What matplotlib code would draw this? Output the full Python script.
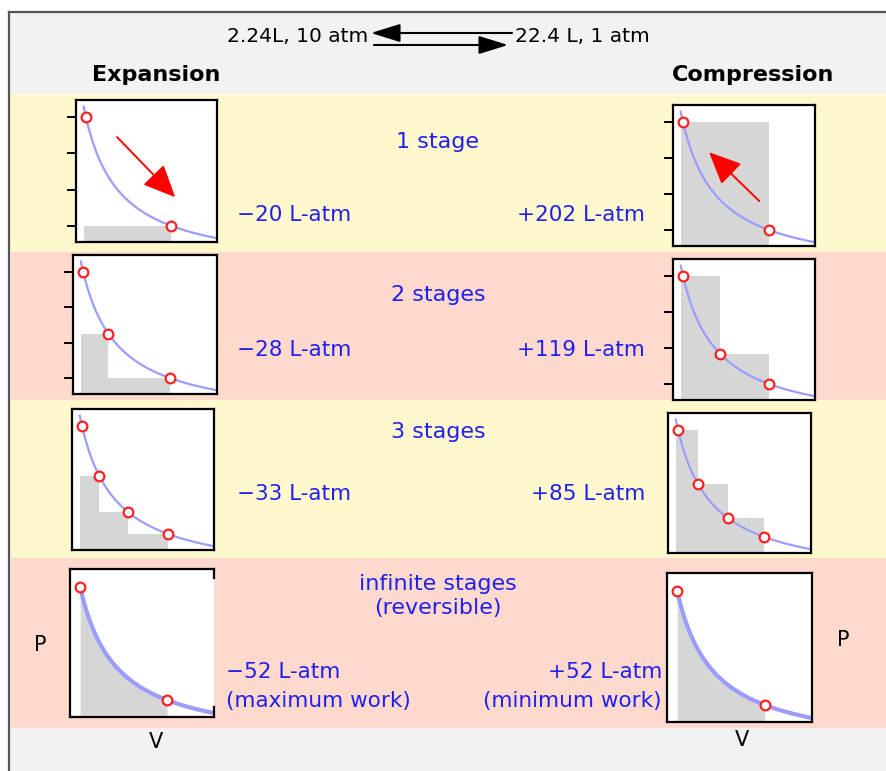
"""Work done in multi-stage isothermal expansion / compression of an ideal gas."""

import matplotlib

matplotlib.use('Agg')
import matplotlib.pyplot as plt
import numpy as np
from matplotlib.patches import Rectangle

# ---- data -------------------------------------------------------------
stage_labels = ['1 stage', '2 stages', '3 stages', 'infinite stages\n(reversible)']
expansion_work = [-20, -28, -33, -52]      # L-atm
compression_work = [202, 119, 85, 52]      # L-atm
expansion_notes = ['', '', '', '(maximum work)']
compression_notes = ['', '', '', '(minimum work)']

# schematic states on the isotherm (arbitrary V units, P = K / V)
K = 3.4
expansion_volumes = [[1.0, 3.4], [1.0, 1.7, 3.4], [1.0, 1.48, 2.28, 3.4], [1.0, 3.4]]
compression_volumes = [[1.0, 3.4], [1.0, 2.05, 3.4], [1.0, 1.56, 2.39, 3.4], [1.0, 3.4]]
is_reversible = [False, False, False, True]
has_ticks = [True, True, False, False]
p_ticks = [1.0, 1.8, 2.6, 3.4]

# direction arrows in the 1-stage panels (V, P)
exp_arrow = [(1.88, 2.96), (3.52, 1.63)]
cmp_arrow = [(3.14, 1.64), (1.73, 2.73)]

# ---- layout (pixels) --------------------------------------------------
W, H = 887, 771
exp_boxes = [(76, 100, 217, 242), (73, 255, 217, 394), (72, 409, 214, 550), (70, 569, 214, 717)]
cmp_boxes = [(673, 105, 815, 246), (673, 259, 815, 400), (668, 413, 811, 553), (667, 573, 812, 722)]
bands = [(94, 252, '#fff8cc'), (252, 400, '#ffd9cc'), (400, 558, '#fff8cc'), (558, 728, '#ffd9cc')]
label_y = [(142, 215), (295, 350), (432, 494), (596, 672)]

XLIM = (0.72, 4.7)
YLIM = (0.64, 3.78)
BLUE = '#2020ee'
GRAY = '#d6d6d6'
CURVE = '#9c9cff'

fig = plt.figure(figsize=(W / 100, H / 100), dpi=100)
bg = fig.add_axes([0, 0, 1, 1])
bg.set_xlim(0, W)
bg.set_ylim(H, 0)
bg.axis('off')

# frame and colour bands
bg.add_patch(Rectangle((9, 12), W - 9, H - 12, facecolor='#f2f2f2', edgecolor='none'))
bg.plot([9, W], [12, 12], color='#555555', lw=1.6)
bg.plot([9.5, 9.5], [12, H], color='#555555', lw=1.6)
for top, bottom, col in bands:
    bg.add_patch(Rectangle((11, top), W - 11, bottom - top, facecolor=col, edgecolor='none'))

# header
bg.text(368, 36, '2.24L, 10 atm', ha='right', va='center', fontsize=14.5)
bg.text(515, 37, '22.4 L, 1 atm', ha='left', va='center', fontsize=14.5)
bg.annotate('', xy=(371, 33), xytext=(512, 33),
            arrowprops=dict(arrowstyle='-|>,head_length=0.9,head_width=0.28',
                            color='black', lw=1.5, mutation_scale=20, shrinkA=0, shrinkB=0))
bg.annotate('', xy=(508, 45), xytext=(374, 45),
            arrowprops=dict(arrowstyle='-|>,head_length=0.9,head_width=0.28',
                            color='black', lw=1.5, mutation_scale=20, shrinkA=0, shrinkB=0))
bg.text(92, 75, 'Expansion', ha='left', va='center', fontsize=16, fontweight='bold')
bg.text(834, 75, 'Compression', ha='right', va='center', fontsize=16, fontweight='bold')

# axis names
bg.text(40, 645, 'P', ha='center', va='center', fontsize=15)
bg.text(843, 640, 'P', ha='center', va='center', fontsize=15)
bg.text(156, 742, 'V', ha='center', va='center', fontsize=15)
bg.text(742, 740, 'V', ha='center', va='center', fontsize=15)


def work_text(w):
    sign = '+' if w > 0 else '\u2212'
    return f'{sign}{abs(w)} L-atm'


for i, label in enumerate(stage_labels):
    y_stage, y_work = label_y[i]
    bg.text(438, y_stage, label, ha='center', va='center', fontsize=16,
            color=BLUE, linespacing=1.25)
    x_left = 226 if is_reversible[i] else 237
    x_right = 662 if is_reversible[i] else 645
    bg.text(x_left, y_work, work_text(expansion_work[i]), ha='left', va='center',
            fontsize=15.5, color=BLUE)
    bg.text(x_right, y_work, work_text(compression_work[i]), ha='right', va='center',
            fontsize=15.5, color=BLUE)
    if expansion_notes[i]:
        bg.text(x_left, y_work + 29, expansion_notes[i], ha='left', va='center',
                fontsize=15.5, color=BLUE)
        bg.text(x_right, y_work + 29, compression_notes[i], ha='right', va='center',
                fontsize=15.5, color=BLUE)


def make_panel(box, volumes, mode, row):
    l, t, r, b = box
    ax = fig.add_axes([l / W, 1 - b / H, (r - l) / W, (b - t) / H])
    ax.set_xlim(*XLIM)
    ax.set_ylim(*YLIM)
    ax.set_facecolor('white')
    for s in ax.spines.values():
        s.set_linewidth(1.6)
    ax.set_xticks([])
    if has_ticks[row]:
        ax.set_yticks(p_ticks)
        ax.set_yticklabels([])
        ax.tick_params(axis='y', direction='out', length=6.5, width=1.4)
    else:
        ax.set_yticks([])

    v = np.array(volumes)
    p = K / v
    ybot = YLIM[0]
    if is_reversible[row]:
        vv = np.linspace(v[0], v[-1], 200)
        ax.fill_between(vv, ybot, K / vv, color=GRAY, lw=0)
    else:
        heights = p[1:] if mode == 'exp' else p[:-1]
        ax.bar(v[:-1] - 0.05, heights - ybot, width=np.diff(v) + 0.05, bottom=ybot,
               align='edge', color=GRAY, lw=0)

    vc = np.linspace(0.93 if not is_reversible[row] else 1.0, XLIM[1], 300)
    ax.plot(vc, K / vc, color=CURVE, lw=3.0 if is_reversible[row] else 1.6,
            solid_capstyle='butt')
    ax.plot(v, p, 'o', ms=7, mfc='white', mec='#ff2020', mew=1.6, clip_on=False)

    if row == 0:
        start, end = exp_arrow if mode == 'exp' else cmp_arrow
        ax.annotate('', xy=end, xytext=start,
                    arrowprops=dict(arrowstyle='-|>,head_length=1.0,head_width=0.45',
                                    color='red', lw=1.4, mutation_scale=20,
                                    shrinkA=0, shrinkB=0))
    return ax


exp_axes = []
for i in range(len(stage_labels)):
    exp_axes.append(make_panel(exp_boxes[i], expansion_volumes[i], 'exp', i))
    make_panel(cmp_boxes[i], compression_volumes[i], 'cmp', i)

# the reversible expansion panel has an open right side
ax_last = exp_axes[-1]
ax_last.spines['right'].set_visible(False)
ax_last.plot([1, 1], [1, 0.94], transform=ax_last.transAxes, color='black', lw=1.6, clip_on=False)
ax_last.plot([1, 1], [0, 0.07], transform=ax_last.transAxes, color='black', lw=1.6, clip_on=False)

plt.savefig('out.png', dpi=100)
plt.close()
